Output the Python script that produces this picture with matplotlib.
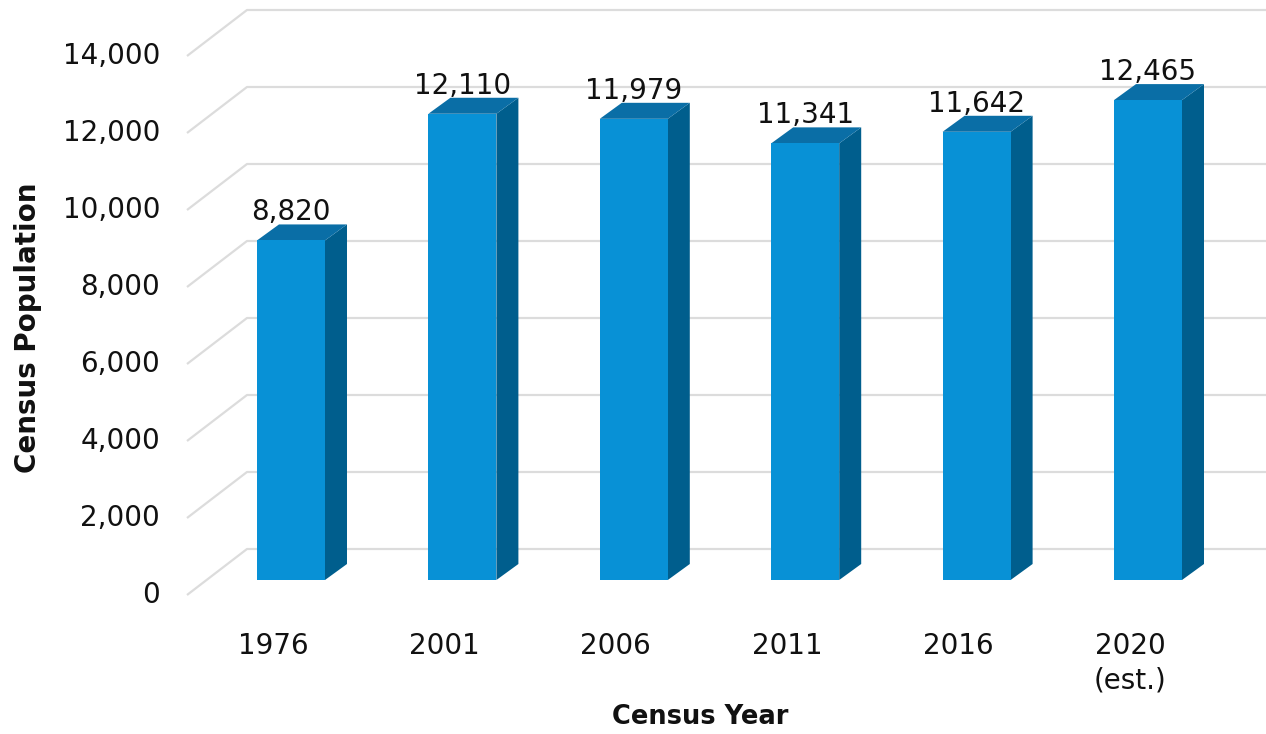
import numpy as np
import matplotlib
matplotlib.use("Agg")
import matplotlib.pyplot as plt
from matplotlib.patches import Polygon

years = ["1976", "2001", "2006", "2011", "2016", "2020\n(est.)"]
population = [8820, 12110, 11979, 11341, 11642, 12465]
yticks = [0, 2000, 4000, 6000, 8000, 10000, 12000, 14000]

FRONT, TOP, SIDE = "#0891d6", "#0a6ea6", "#005e8d"
GRID = "#dcdcdc"
INK = "#111111"

W, H = 1266, 734
fig = plt.figure(figsize=(W / 100, H / 100), dpi=100)
ax = fig.add_axes([0, 0, 1, 1])
ax.set_axis_off()

# pixel layout of the fake-3D plane where bar fronts sit
x0_px, step_px = 291, 171.4        # first bar centre, bar spacing
base_px, k = 580, 77 / 2000        # y of value 0 (from top), px per unit
ax.set_xlim(-x0_px / step_px, (W - x0_px) / step_px)
ax.set_ylim((base_px - H) / k, base_px / k)

px = 1 / step_px                   # one pixel in x data units
py = 1 / k                         # one pixel in y data units


def xd(p):
    return (p - x0_px) / step_px


# gridlines: front-left diagonal then along back wall
for v in yticks:
    ax.plot([xd(187), xd(247), ax.get_xlim()[1]],
            [v - 15 * py, v + 31 * py, v + 31 * py],
            color=GRID, lw=1.6, zorder=1, solid_capstyle="butt")
    ax.text(xd(160), v - 15 * py, f"{v:,}", ha="right", va="center",
            fontsize=20, color=INK)

# bars: side and top faces as polygons, front via ax.bar
bw = 68 * px
ddx, ddy = 22 * px, 16 * py
x = np.arange(len(years))
for i, v in zip(x, population):
    l, r = i - bw / 2, i + bw / 2
    ax.add_patch(Polygon([(r, 0), (r + ddx, ddy), (r + ddx, v + ddy), (r, v)],
                         closed=True, facecolor=SIDE, edgecolor="none", zorder=3))
    ax.add_patch(Polygon([(l, v), (r, v), (r + ddx, v + ddy), (l + ddx, v + ddy)],
                         closed=True, facecolor=TOP, edgecolor="none", zorder=3))
    ax.text(i, v + 20 * py, f"{v:,}", ha="center", va="baseline",
            fontsize=20, color=INK, zorder=5)
ax.bar(x, population, width=bw, color=FRONT, zorder=4)

# category labels sit on the front edge of the floor
for i, lab in zip(x, years):
    ax.text(i - 18 * px, (base_px - 632) * py, lab, ha="center", va="top",
            fontsize=20, color=INK, linespacing=1.3)

ax.text(xd(700), (base_px - 717) * py, "Census Year", ha="center", va="center",
        fontsize=18.5, fontweight="bold", color=INK)
ax.text(xd(28), (base_px - 328) * py, "Census Population", ha="center",
        va="center", rotation=90, fontsize=20, fontweight="bold", color=INK)

fig.savefig("out.png", dpi=100)
